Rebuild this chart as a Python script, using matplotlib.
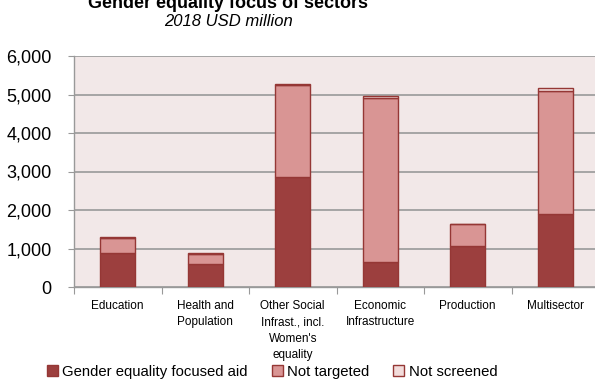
import matplotlib
matplotlib.use("Agg")
import matplotlib.pyplot as plt
from matplotlib.patches import Patch
import numpy as np

categories = ["Education", "Health and\nPopulation", "Other Social\nInfrast., incl.\nWomen's\nequality",
              "Economic\nInfrastructure", "Production", "Multisector"]
gender_focused = [880, 600, 2870, 660, 1060, 1900]
not_targeted = [400, 270, 2370, 4260, 570, 3180]
not_screened = [20, 15, 30, 30, 15, 90]
yticks = [0, 1000, 2000, 3000, 4000, 5000, 6000]

c_dark = "#9C3F3E"
c_mid = "#D99594"
c_light = "#F2DCDB"
c_edge = "#953735"

plt.rcParams['font.family'] = ['Liberation Sans', 'DejaVu Sans']
fig = plt.figure(figsize=(5.95, 3.8), dpi=100)
ax = fig.add_axes([74/595, 1-287/380, (599-74)/595, (287-56)/380])
ax.set_facecolor("#F2E8E8")

x = np.arange(len(categories))
w = 0.4
g = np.array(gender_focused); n = np.array(not_targeted); s = np.array(not_screened)
ax.bar(x, g, w, color=c_dark, edgecolor=c_edge, linewidth=1.0, zorder=3)
ax.bar(x, n, w, bottom=g, color=c_mid, edgecolor=c_edge, linewidth=1.0, zorder=3)
ax.bar(x, s, w, bottom=g+n, color=c_light, edgecolor=c_edge, linewidth=1.0, zorder=3)

ax.set_xlim(-0.5, len(categories)-0.5)
ax.set_ylim(0, 6000)
ax.set_yticks(yticks)
ax.set_yticklabels([f"{v:,}" for v in yticks], fontsize=13)
ax.yaxis.grid(True, color="#999999", linewidth=1.2, zorder=0)
for sp in ["top", "right"]:
    ax.spines[sp].set_visible(False)
for sp in ["left", "bottom"]:
    ax.spines[sp].set_color("#999999")
    ax.spines[sp].set_linewidth(1.0)
ax.tick_params(axis='y', length=4, color="#999999", pad=12)
ax.set_xticks(np.arange(len(categories)+1) - 0.5)
ax.set_xticklabels([])
ax.tick_params(axis='x', length=5, color="#999999")
for i, c in enumerate(categories):
    ax.text(i, -330, c, ha='center', va='top', fontsize=8.5, linespacing=1.5,
            transform=ax.transData, clip_on=False)

fig.text(228/595, 1-3/380, "Gender equality focus of sectors", ha='center', va='center',
         fontsize=13, fontweight='bold')
fig.text(228/595, 1-21/380, "2018 USD million", ha='center', va='center',
         fontsize=12, style='italic')

handles = [Patch(facecolor=c_dark, edgecolor=c_edge),
           Patch(facecolor=c_mid, edgecolor=c_edge),
           Patch(facecolor=c_light, edgecolor=c_edge)]
labels = ["Gender equality focused aid", "Not targeted", "Not screened"]
fig.legend(handles, labels, loc='center', bbox_to_anchor=(272/595, 1-372/380), ncol=3,
           frameon=False, fontsize=10.7, handlelength=0.75, handleheight=0.75,
           handletextpad=0.3, columnspacing=1.6, borderaxespad=0, borderpad=0)

fig.savefig("out.png", dpi=100)
